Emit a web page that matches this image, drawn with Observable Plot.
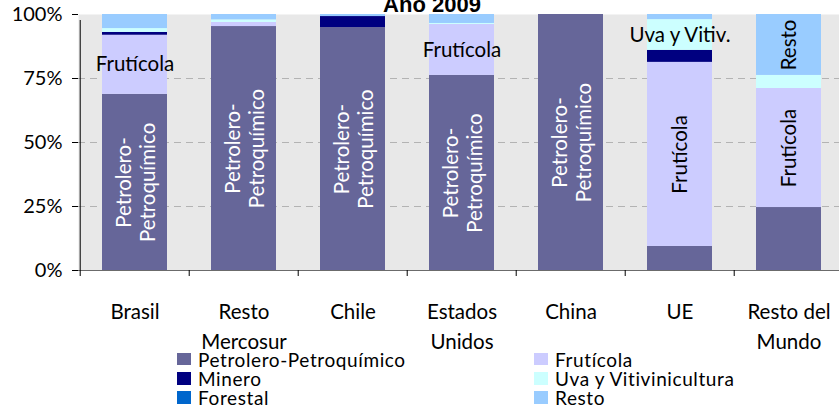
<!DOCTYPE html>
<html><head><meta charset="utf-8">
<script src="https://cdn.jsdelivr.net/npm/d3@7"></script>
<script src="https://cdn.jsdelivr.net/npm/@observablehq/plot@0.6"></script>
<style>
html,body{margin:0;padding:0;background:#fff;overflow:hidden;}
#wrap{position:relative;width:839px;height:408px;overflow:hidden;font-family:Lato,sans-serif;}
#title{position:absolute;left:0;width:864px;top:-6px;text-align:center;font:bold 22px "Liberation Sans",Arial,sans-serif;line-height:22px;}
#legend{position:absolute;left:177px;top:349.5px;display:grid;grid-template-columns:357px auto;grid-template-rows:repeat(3,19.3px);grid-auto-flow:column;font-size:19px;line-height:19.3px;letter-spacing:0.6px;color:#000;}
.item{display:flex;align-items:center;white-space:nowrap;height:19.3px;}
.sw{width:14px;height:12.5px;margin-right:7px;flex:none;}
</style></head><body><div id="wrap"><div id="chart"></div><div id="title"></div><div id="legend"></div></div>
<script>
const title = "Año 2009";
const countries = ["Brasil","Resto Mercosur","Chile","Estados Unidos","China","UE","Resto del Mundo"];
const countryTickLabels = ["Brasil","Resto\nMercosur","Chile","Estados\nUnidos","China","UE","Resto del\nMundo"];
// stacking order (bottom to top)
const sectors = ["Petrolero-Petroquímico","Frutícola","Minero","Forestal","Uva y Vitivinicultura","Resto"];
const sectorColors = ["#666699","#CCCCFF","#000080","#0066CC","#CCFFFF","#99CCFF"];
// legend order (column-wise)
const legendOrder = ["Petrolero-Petroquímico","Minero","Forestal","Frutícola","Uva y Vitivinicultura","Resto"];
// shares (%) by country, same order as countries
const petrolero = [68.8, 95.3, 94.9, 76.2, 100, 9.4, 24.6];
const fruticola = [23.1, 1.6, 0, 19.9, 0, 71.9, 46.5];
const minero    = [1.1, 0, 4.3, 0, 0, 4.7, 0];
const forestal  = [0, 0, 0, 0, 0, 0, 0];
const uva       = [1.5, 1.0, 0, 0.4, 0, 12.0, 5.1];
const resto     = [5.5, 2.1, 0.8, 3.5, 0, 2.0, 23.8];
const yTicks = [0, 25, 50, 75, 100];
// in-bar labels: [country, sector, text]
const verticalWhiteLabels = [
  ["Brasil","Petrolero-Petroquímico","Petrolero-\nPetroquímico"],
  ["Resto Mercosur","Petrolero-Petroquímico","Petrolero-\nPetroquímico"],
  ["Chile","Petrolero-Petroquímico","Petrolero-\nPetroquímico"],
  ["Estados Unidos","Petrolero-Petroquímico","Petrolero-\nPetroquímico"],
  ["China","Petrolero-Petroquímico","Petrolero-\nPetroquímico"]
];
const verticalBlackLabels = [
  ["UE","Frutícola","Frutícola"],
  ["Resto del Mundo","Frutícola","Frutícola"],
  ["Resto del Mundo","Resto","Resto"]
];
const horizontalLabels = [
  ["Brasil","Frutícola","Frutícola"],
  ["Estados Unidos","Frutícola","Frutícola"],
  ["UE","Uva y Vitivinicultura","Uva y Vitiv."]
];

const series = [petrolero, fruticola, minero, forestal, uva, resto];
const rows = [];
countries.forEach((c, i) => sectors.forEach((s, j) => rows.push({country: c, sector: s, value: series[j][i]})));
const data = rows.filter(d => d.value > 0);
const key = d => d.country + "|" + d.sector;
const toMap = arr => new Map(arr.map(([c, s, t]) => [c + "|" + s, t]));
const wMap = toMap(verticalWhiteLabels), bMap = toMap(verticalBlackLabels), hMap = toMap(horizontalLabels);

const W = 845, H = 350, mL = 78, mR = 0, mT = 14, mB = 80;
const step = (W - mL - mR) / countries.length;
const FS = 20.5;

const chart = Plot.plot({
  width: W, height: H, marginLeft: mL, marginRight: mR, marginTop: mT, marginBottom: mB,
  style: {fontFamily: "Lato, sans-serif", fontSize: "20px", maxWidth: "none", overflow: "visible", background: "transparent", color: "#000"},
  x: {domain: countries, paddingInner: 0.4, paddingOuter: 0.2, axis: null},
  y: {domain: [0, 100], ticks: yTicks, tickFormat: d => d + "%", tickSize: 6, tickPadding: 10, label: null},
  color: {domain: sectors, range: sectorColors},
  marks: [
    Plot.frame({fill: "#e8e8e8", stroke: "none"}),
    Plot.ruleY(yTicks.filter(t => t > 0 && t < 100), {stroke: "#b3b3b3", strokeDasharray: "7,5"}),
    Plot.barY(data, {x: "country", y: "value", fill: "sector"}),
    Plot.text(data, Plot.stackY({x: "country", y: "value", text: d => wMap.get(key(d)) ?? "", rotate: -90, fill: "white", fontSize: FS, lineHeight: 1.2})),
    Plot.text(data, Plot.stackY({x: "country", y: "value", text: d => bMap.get(key(d)) ?? "", rotate: -90, fill: "black", fontSize: FS})),
    Plot.text(data, Plot.stackY({x: "country", y: "value", text: d => hMap.get(key(d)) ?? "", fill: "black", fontSize: FS})),
    Plot.ruleY([0], {stroke: "#6b6b6b"}),
    Plot.ruleX(countries, {x: d => d, y1: 0, y2: 0, dx: -step / 2, insetBottom: -6, stroke: "black"}),
    Plot.ruleX([countries[0]], {x: d => d, y1: 0, y2: 100, dx: -step / 2, insetBottom: -6, stroke: "black"}),
    Plot.text(countries, {x: d => d, frameAnchor: "bottom", text: (d, i) => countryTickLabels[i], lineAnchor: "top", dy: 27.4, lineHeight: 1.46, fontSize: FS, fill: "black"})
  ]
});
document.getElementById("chart").appendChild(chart);
document.getElementById("title").textContent = title;
const colorOf = new Map(sectors.map((s, i) => [s, sectorColors[i]]));
const leg = document.getElementById("legend");
legendOrder.forEach(s => {
  const it = document.createElement("div"); it.className = "item";
  const sw = document.createElement("span"); sw.className = "sw"; sw.style.background = colorOf.get(s);
  const tx = document.createElement("span"); tx.textContent = s;
  it.appendChild(sw); it.appendChild(tx); leg.appendChild(it);
});
</script></body></html>
